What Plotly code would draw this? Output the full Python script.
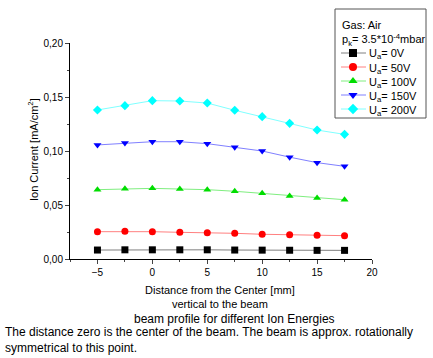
import plotly.graph_objects as go

distance_mm = [-5, -2.5, 0, 2.5, 5, 7.5, 10, 12.5, 15, 17.5]
series_names = ["U<sub>a</sub>= 0V", "U<sub>a</sub>= 50V", "U<sub>a</sub>= 100V",
                "U<sub>a</sub>= 150V", "U<sub>a</sub>= 200V"]
current_0V = [0.0083, 0.0085, 0.0085, 0.0085, 0.0085, 0.0083, 0.0082, 0.0081, 0.0080, 0.0080]
current_50V = [0.0253, 0.0256, 0.0253, 0.0247, 0.0244, 0.0238, 0.0229, 0.0225, 0.0219, 0.0216]
current_100V = [0.0642, 0.0651, 0.0654, 0.0648, 0.0642, 0.0627, 0.0608, 0.0583, 0.0565, 0.0549]
current_150V = [0.1056, 0.1074, 0.1086, 0.1086, 0.1068, 0.1034, 0.1000, 0.0943, 0.0892, 0.0858]
current_200V = [0.1380, 0.1420, 0.1466, 0.1463, 0.1444, 0.1377, 0.1318, 0.1256, 0.1194, 0.1154]
y_ticks = [0, 0.05, 0.10, 0.15, 0.20]
x_ticks = [-5, 0, 5, 10, 15, 20]
legend_title_lines = ["Gas: Air", "p<sub>k</sub>= 3.5*10<sup>-4</sup>mbar"]
caption_lines = ["The distance zero is the center of the beam. The beam is approx. rotationally",
                 "symmetrical to this point."]

all_series = [current_0V, current_50V, current_100V, current_150V, current_200V]
marker_colors = ["#000000", "#ff0000", "#00dd00", "#0000ff", "#00ffff"]
line_colors = ["#808080", "#ff8080", "#80ee80", "#8080ff", "#80ffff"]
symbols = ["square", "circle", "triangle-up", "triangle-down", "diamond"]

W, H = 433, 358
L, R, T, B = 70, 61, 43, 99
PW, PH = W - L - R, H - T - B

def px_x(x):
    return (x - L) / PW

def px_y(y):
    return (H - B - y) / PH

fig = go.Figure()
for name, vals, mc, lc, sym in zip(series_names, all_series, marker_colors, line_colors, symbols):
    fig.add_trace(go.Scatter(
        x=distance_mm, y=vals, name=name.replace("<sub>", "").replace("</sub>", ""),
        mode="lines+markers", showlegend=False,
        line=dict(color=lc, width=1),
        marker=dict(color=mc, symbol=sym, size=7, line=dict(width=0)),
    ))

font_family = "Liberation Sans, Arial, sans-serif"
annotations = []
shapes = []

# compact legend drawn by hand (the native one cannot be this tight)
shapes.append(dict(type="rect", xref="paper", yref="paper",
                   x0=px_x(335), x1=px_x(426), y0=px_y(118), y1=px_y(9),
                   line=dict(color="#555555", width=1), fillcolor="white", layer="below"))
annotations.append(dict(text="<br>".join(legend_title_lines), xref="paper", yref="paper",
                        x=px_x(340), y=px_y(17), xanchor="left", yanchor="top", align="left",
                        showarrow=False, font=dict(size=11)))
for i, (name, mc, lc, sym) in enumerate(zip(series_names, marker_colors, line_colors, symbols)):
    yc = 53 + 14 * i
    fig.add_trace(go.Scatter(x=[341, 366], y=[yc, yc], mode="lines", xaxis="x2", yaxis="y2",
                             line=dict(color=lc, width=1), showlegend=False, hoverinfo="skip"))
    fig.add_trace(go.Scatter(x=[353], y=[yc], mode="markers", xaxis="x2", yaxis="y2",
                             marker=dict(color=mc, symbol=sym, size=8, line=dict(width=0)),
                             showlegend=False, hoverinfo="skip"))
    annotations.append(dict(text=name, xref="paper", yref="paper", x=px_x(367), y=px_y(yc + 1.5),
                            xanchor="left", yanchor="middle", showarrow=False,
                            font=dict(size=11)))

annotations.append(dict(text="Distance from the Center [mm]<br>vertical to the beam",
                        xref="paper", yref="paper", x=px_x(220), y=px_y(282),
                        xanchor="center", yanchor="top", showarrow=False, font=dict(size=11)))
annotations.append(dict(text="Ion Current [mA/cm<sup>2</sup>]", textangle=-90,
                        xref="paper", yref="paper", x=px_x(33), y=px_y(150),
                        xanchor="center", yanchor="middle", showarrow=False, font=dict(size=11)))
annotations.append(dict(text="beam profile for different Ion Energies", xref="paper", yref="paper",
                        x=px_x(234), y=px_y(319), xanchor="center", yanchor="middle",
                        showarrow=False, font=dict(size=12)))
annotations.append(dict(text="<br>".join(caption_lines), xref="paper", yref="paper",
                        x=px_x(3), y=px_y(323), xanchor="left", yanchor="top", align="left",
                        showarrow=False, font=dict(size=12)))

fig.update_layout(
    width=W, height=H,
    margin=dict(l=L, r=R, t=T, b=B),
    paper_bgcolor="white", plot_bgcolor="white",
    separators=",.",
    showlegend=False,
    font=dict(family=font_family, size=10, color="black"),
    xaxis=dict(range=[-7.5, 20], tickvals=x_ticks, ticks="outside", ticklen=4,
               showline=True, linecolor="black", linewidth=1, showgrid=False, zeroline=False,
               minor=dict(ticks="outside", ticklen=2, dtick=2.5, tick0=0),
               tickfont=dict(size=10), automargin=False),
    yaxis=dict(range=[0, 0.2], tickvals=y_ticks, tickformat=".2f", ticks="outside", ticklen=4,
               showline=True, linecolor="black", linewidth=1, showgrid=False, zeroline=False,
               minor=dict(ticks="outside", ticklen=2, dtick=0.025, tick0=0),
               tickfont=dict(size=10), automargin=False),
    xaxis2=dict(overlaying="x", range=[L, W - R], visible=False, fixedrange=True),
    yaxis2=dict(overlaying="y", range=[H - B, T], visible=False, fixedrange=True),
    annotations=annotations,
    shapes=shapes,
)

fig.write_html("out.html", config={"displayModeBar": False},
               post_script="document.body.style.margin='0';document.body.style.overflow='hidden';")
